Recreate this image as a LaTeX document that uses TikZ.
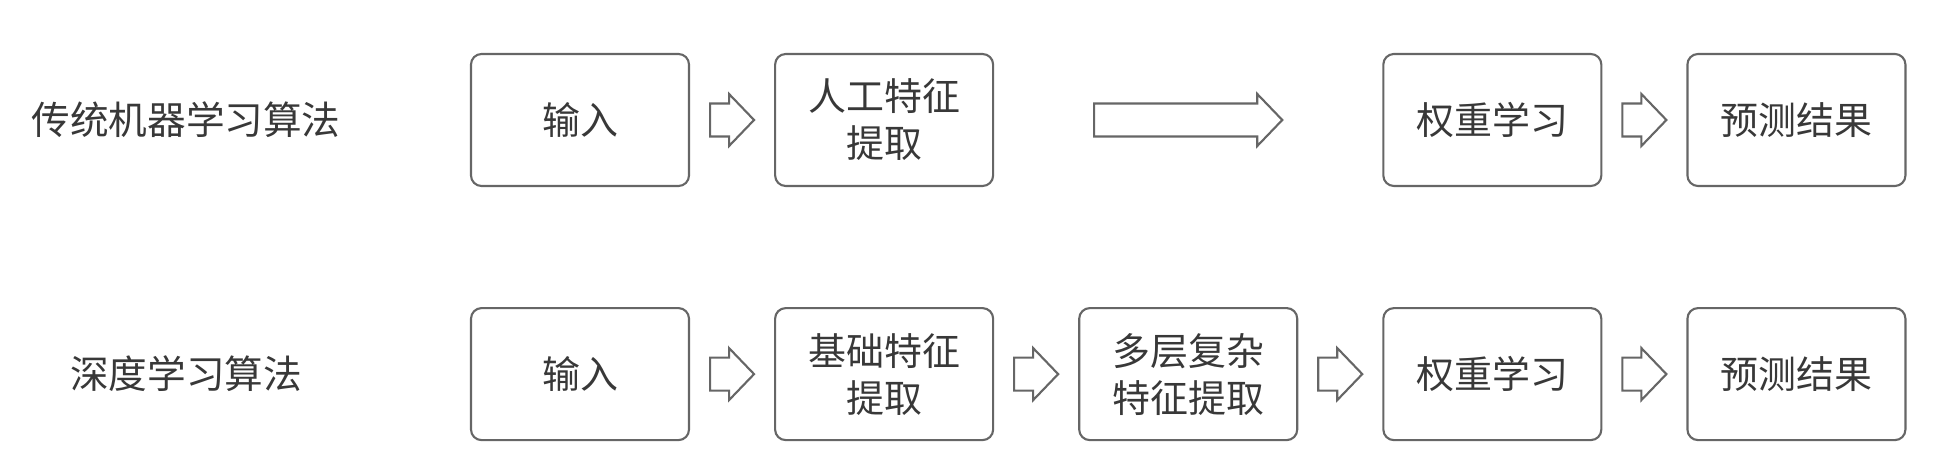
\documentclass[tikz,border=0pt]{standalone}
\usepackage{fontspec}
\newfontfamily\cjk{Noto Sans CJK SC}
\usetikzlibrary{positioning,calc}

% hollow block arrow between two boxes, [gap]{from}{to}
\newcommand{\hollowarrow}[3][0.2]{%
  \draw[flow] ($(#2.east)+(#1,.165)$) -- ($(#3.west)+(-#1-.25,.165)$) -- ++(0,.095)
    -- ($(#3.west)+(-#1,0)$) -- ($(#3.west)+(-#1-.25,-.26)$) -- ++(0,.095)
    -- ($(#2.east)+(#1,-.165)$) -- cycle;}

\begin{document}
\begin{tikzpicture}[
  node distance=1.2cm and 0.84cm,
  stage/.style={draw=black!60,line width=.6pt,rounded corners=3pt,minimum width=2.18cm,
    minimum height=1.32cm,align=center,text=black!78,font=\cjk\fontsize{10.8pt}{13.4pt}\selectfont},
  rowlabel/.style={text=black!78,font=\cjk\fontsize{11pt}{13.4pt}\selectfont},
  flow/.style={draw=black!60,line width=.6pt,line join=miter}
]
  \useasboundingbox (0,0) rectangle (19.6,-4.74);

  % traditional machine learning
  \node[rowlabel] (trad) at (1.86,-1.2) {传统机器学习算法};
  \node[stage] (tin) at (5.80,-1.2) {输入};
  \node[stage,right=of tin] (tfeat) {人工特征\\提取};

  % deep learning
  \node[stage,below=of tin] (din) {输入};
  \node[rowlabel] (deep) at (din -| trad) {深度学习算法};
  \node[stage,right=of din] (dfeat) {基础特征\\提取};
  \node[stage,right=of dfeat] (dmulti) {多层复杂\\特征提取};
  \node[stage,right=of dmulti] (dweight) {权重学习};
  \node[stage,right=of dweight] (dpred) {预测结果};

  \node[stage,above=of dweight] (tweight) {权重学习};
  \node[stage,right=of tweight] (tpred) {预测结果};

  \hollowarrow{tin}{tfeat}
  \hollowarrow[1.0]{tfeat}{tweight}
  \hollowarrow{tweight}{tpred}

  \hollowarrow{din}{dfeat}
  \hollowarrow{dfeat}{dmulti}
  \hollowarrow{dmulti}{dweight}
  \hollowarrow{dweight}{dpred}
\end{tikzpicture}
\end{document}
